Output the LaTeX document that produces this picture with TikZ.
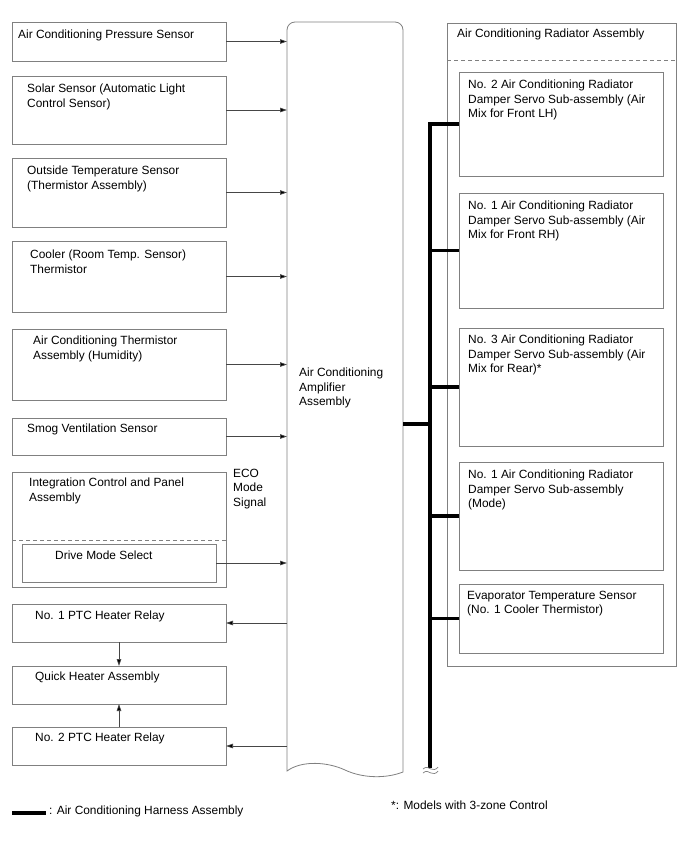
\documentclass[tikz,border=0pt]{standalone}
\usepackage{fontspec}
\setmainfont{Liberation Sans}
\usetikzlibrary{arrows.meta,calc}
\definecolor{boxgray}{RGB}{128,128,128}
\definecolor{linegray}{RGB}{70,70,70}
\newcommand\mybox[8]{%
  \node[box, minimum width={#4-#2}, minimum height={#5-#3}] (#1) at (#2,#3) {};
  \node[txt] (#1t) at (#6,#7) {#8};}
\begin{document}
\begin{tikzpicture}[x=1pt,y=-1pt,
  box/.style={draw=boxgray, line width=0.8pt, inner sep=0pt, outer sep=0pt, anchor=north west, fill=white},
  txt/.style={anchor=north west, inner sep=0pt, align=left, font=\fontsize{11.9}{14.3}\selectfont},
  conn/.style={draw=linegray, line width=0.7pt, -{Triangle[length=7pt,width=4.5pt,fill=black]}},
  bus/.style={draw=black, line width=4pt, line join=miter},
  dashline/.style={draw=boxgray, line width=0.8pt, dash pattern=on 4pt off 3pt}]
\useasboundingbox (0,0) rectangle (688,852);

% left column
\mybox{pres}{12}{22}{226}{61}{18}{30}{Air Conditioning Pressure Sensor}
\mybox{solar}{12}{76}{226}{144}{27}{84}{Solar Sensor (Automatic Light\\Control Sensor)}
\mybox{outs}{12}{158}{226}{227}{27}{166}{Outside Temperature Sensor\\(Thermistor Assembly)}
\mybox{cool}{12}{241}{226}{312}{30}{250}{Cooler (Room Temp. Sensor)\\Thermistor}
\mybox{therm}{12}{329}{226}{400}{33}{336}{Air Conditioning Thermistor\\Assembly (Humidity)}
\mybox{smog}{12}{418}{226}{455}{27}{424}{Smog Ventilation Sensor}
\mybox{integ}{12}{472}{226}{587}{29}{478}{Integration Control and Panel\\Assembly}
\draw[dashline] (integ.west |- 0,540) -- (integ.east |- 0,540);
\mybox{drive}{22}{544}{216}{582}{55}{551}{Drive Mode Select}
\node[txt] (eco) at (233,469) {ECO\\Mode\\Signal};
\mybox{ptca}{12}{604}{226}{642}{35}{611}{No. 1 PTC Heater Relay}
\mybox{quick}{12}{666}{226}{704}{35}{672}{Quick Heater Assembly}
\mybox{ptcb}{12}{727}{226}{765}{35}{733}{No. 2 PTC Heater Relay}

% amplifier
\node[inner sep=0pt, outer sep=0pt, minimum width=116, minimum height=750, anchor=north west] (amp) at (287,22) {};
\draw[draw=boxgray, line width=0.8pt, fill=white]
  (287,771) [rounded corners=8pt] -- (287,22) -- (403,22) [sharp corners] -- (403,772)
  .. controls (385,779) and (362,778) .. (345,770)
  .. controls (328,762) and (302,760) .. (287,771) -- cycle;
\node[txt] (ampt) at (299,368) {Air Conditioning\\Amplifier\\Assembly};

% arrows to amplifier
\foreach \n in {pres,solar,outs,cool,therm,smog,drive}
  \draw[conn] (\n.east) -- (\n.east -| amp.west);
\draw[conn] (ptca.east -| amp.west) -- (ptca.east);
\draw[conn] (ptcb.east -| amp.west) -- (ptcb.east);
\draw[conn] (ptca.south -| 119,0) -- (quick.north -| 119,0);
\draw[conn] (ptcb.north -| 119,0) -- (quick.south -| 119,0);

% radiator assembly
\mybox{rad}{447}{23}{676}{666}{457}{29}{Air Conditioning Radiator Assembly}
\draw[dashline] (rad.west |- 0,60) -- (rad.east |- 0,60);
\mybox{dtwo}{459}{72}{663}{176}{468}{80}{No. 2 Air Conditioning Radiator\\Damper Servo Sub-assembly (Air\\Mix for Front LH)}
\mybox{done}{459}{193}{663}{308}{468}{201}{No. 1 Air Conditioning Radiator\\Damper Servo Sub-assembly (Air\\Mix for Front RH)}
\mybox{dthree}{459}{328}{663}{446}{468}{335}{No. 3 Air Conditioning Radiator\\Damper Servo Sub-assembly (Air\\Mix for Rear)*}
\mybox{dmode}{459}{462}{663}{570}{468}{470}{No. 1 Air Conditioning Radiator\\Damper Servo Sub-assembly\\(Mode)}
\mybox{evap}{459}{584}{663}{653}{467}{591}{Evaporator Temperature Sensor\\(No. 1 Cooler Thermistor)}

% harness bus
\coordinate (ampout) at (403,424);
\coordinate (busx) at (430,0);
\coordinate (busbot) at (430,768);
\draw[bus] (dtwo.west) -- (dtwo.west -| busx) -- (busbot);
\foreach \n in {done,dthree,dmode,evap}
  \draw[line width=3.5pt] (\n.west) -- (\n.west -| busx);
\draw[line width=3.5pt] (ampout) -- (ampout -| busx);
\draw[draw=boxgray, line width=0.7pt]
  (423,769) .. controls (426,766) and (429,768) .. (431,769) .. controls (433,770) and (436,770) .. (438,767)
  (423,773) .. controls (426,770) and (429,772) .. (431,773) .. controls (433,774) and (436,774) .. (438,771);

% legend
\coordinate (lega) at (12,813);
\coordinate (legb) at (46,813);
\draw[line width=4pt] (lega) -- (legb);
\node[txt, anchor=west] (legt) at (49,811) {: Air Conditioning Harness Assembly};
\node[txt, anchor=west] (note) at (391,805) {*: Models with 3-zone Control};
\end{tikzpicture}
\end{document}
